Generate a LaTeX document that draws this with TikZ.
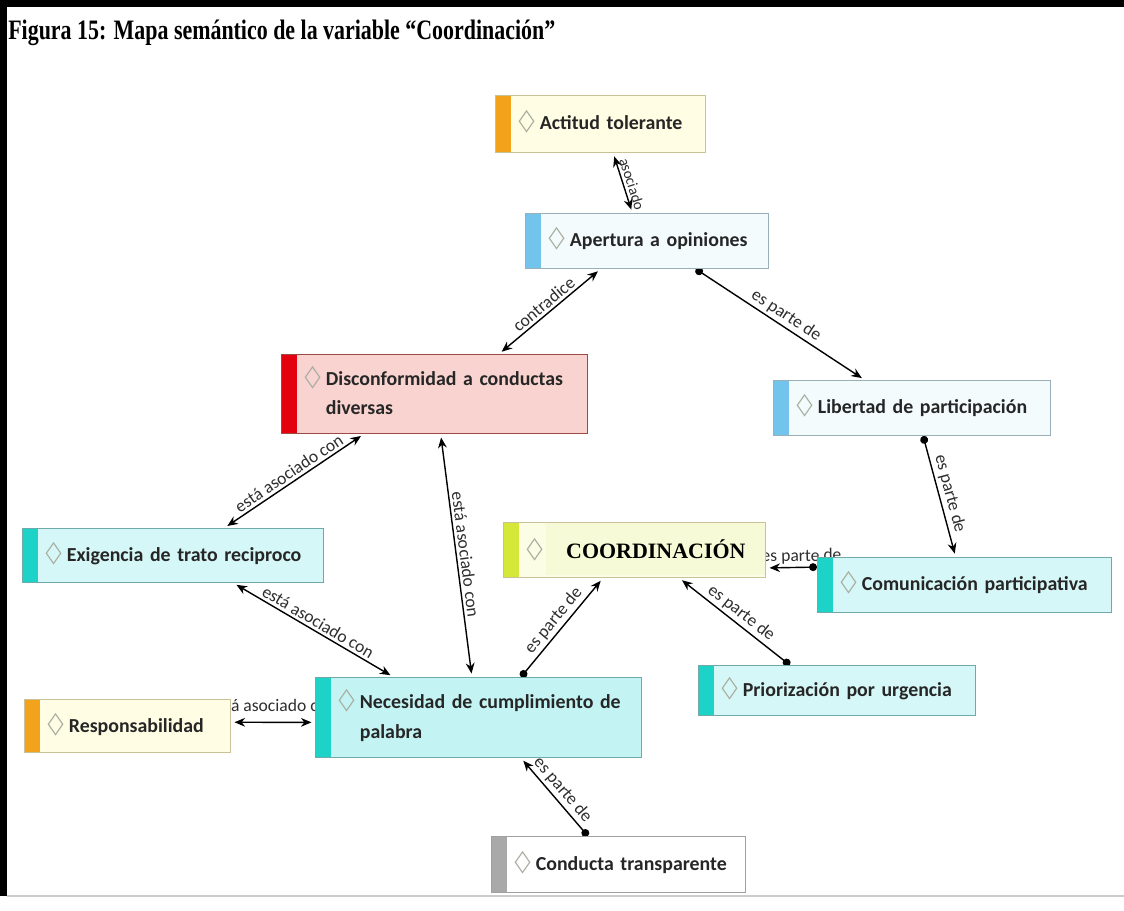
\documentclass[tikz,border=0pt]{standalone}
\usepackage{fontspec}
\usepackage{graphicx}
\setmainfont{Carlito}
\newfontfamily\titlefont{Liberation Serif}
\newfontfamily\symfont{DejaVu Sans}
\usepackage{tikz}
\usetikzlibrary{arrows.meta, calc}
\pgfdeclarelayer{bg}
\pgfsetlayers{bg,main}

\definecolor{barOrange}{HTML}{F2A31B}
\definecolor{barBlue}{HTML}{72C4EC}
\definecolor{barRed}{HTML}{E3000F}
\definecolor{barTeal}{HTML}{1DD3C7}
\definecolor{barLime}{HTML}{D5E83A}
\definecolor{barGray}{HTML}{A9A9A9}
\definecolor{fillYellow}{HTML}{FFFDE3}
\definecolor{fillPale}{HTML}{F4FBFD}
\definecolor{fillPink}{HTML}{F8D3CF}
\definecolor{fillCyan}{HTML}{D6F7F7}
\definecolor{fillNec}{HTML}{C4F3F3}
\definecolor{fillLime}{HTML}{FBFDE4}
\definecolor{fillCoord}{HTML}{F6FAD6}
\definecolor{lineYellow}{HTML}{C9C197}
\definecolor{lineBlue}{HTML}{9AAFB8}
\definecolor{lineRed}{HTML}{9E4A44}
\definecolor{lineTeal}{HTML}{6FA9A8}
\definecolor{lineGray}{HTML}{A0A0A0}
\definecolor{txtDark}{HTML}{262626}
\definecolor{labGray}{HTML}{2E2E2E}
\definecolor{dmdGray}{HTML}{A8ADA0}

% diamond and concept text
\newcommand{\dmd}{{\symfont\fontsize{17}{17}\selectfont\color{dmdGray}\scalebox{0.7}[1]{◇}}}
\newcommand{\cpt}[1]{\hspace*{0.36cm}\dmd\hspace{3pt}\begin{tabular}[t]{@{}l@{}}#1\end{tabular}}

\begin{document}
\begin{tikzpicture}[x=0.02cm, y=-0.02cm,
    bar/.style={path picture={\fill[#1] (path picture bounding box.north west)
        rectangle ([xshift=0.3cm]path picture bounding box.south west);}}]
    \tikzstyle{myBox}=[draw, rectangle, line width=0.6pt, anchor=north west,
        inner xsep=0.1cm, inner ysep=0pt, align=left, text=txtDark,
        font=\fontsize{11.3}{17}\selectfont\bfseries]
    \tikzstyle{myLab}=[font=\fontsize{10}{11}\selectfont, text=labGray,
        inner sep=1.5pt, sloped, above]
    \tikzstyle{twoWay}=[{Stealth[length=6pt,width=5pt]}-{Stealth[length=6pt,width=5pt]},
        line width=0.8pt, shorten <=2pt, shorten >=2pt]
    \tikzstyle{partOf}=[{Circle[length=4.5pt]}-{Stealth[length=6pt,width=5pt]},
        line width=0.8pt, shorten >=2pt]

    \useasboundingbox (0,0) rectangle (1124,911);

    % frame and title
    \fill[black] (0,0) rectangle (1124,7);
    \fill[black] (0,0) rectangle (7,896);
    \draw[black!20, line width=1pt] (7,896) -- (1124,896);
    \node[anchor=base west, inner sep=0pt,
        font=\titlefont\bfseries\fontsize{16}{18}\selectfont] (title) at (8,40)
        {\scalebox{0.78}[1]{Figura 15: Mapa semántico de la variable “Coordinación”}};

    % concepts
    \node[myBox, bar=barOrange, fill=fillYellow, draw=lineYellow, text width=4.0cm,
        minimum height=1.14cm] (act) at (495,95) {\cpt{Actitud tolerante}};
    \node[myBox, bar=barBlue, fill=fillPale, draw=lineBlue, text width=4.66cm,
        minimum height=1.1cm] (ape) at (525,213) {\cpt{Apertura a opiniones}};
    \node[myBox, bar=barRed, fill=fillPink, draw=lineRed, text width=5.92cm,
        minimum height=1.58cm] (dis) at (281,354) {\cpt{Disconformidad a conductas\\diversas}};
    \node[myBox, bar=barBlue, fill=fillPale, draw=lineBlue, text width=5.34cm,
        minimum height=1.1cm] (lib) at (773,380) {\cpt{Libertad de participación}};
    \node[myBox, bar=barTeal, fill=fillCyan, draw=lineTeal, text width=5.82cm,
        minimum height=1.08cm] (exi) at (22,528) {\cpt{Exigencia de trato reciproco}};
    \node[myBox, bar=barLime, fill=fillLime, draw=lineYellow, text width=5.04cm,
        minimum height=1.1cm] (coo) at (503,522) {\cpt{}};
    \node[myBox, bar=barTeal, fill=fillCyan, draw=lineTeal, text width=5.68cm,
        minimum height=1.1cm] (com) at (817,557) {\cpt{Comunicación participativa}};
    \node[myBox, bar=barTeal, fill=fillCyan, draw=lineTeal, text width=5.34cm,
        minimum height=1.0cm] (pri) at (698,665) {\cpt{Priorización por urgencia}};
    \node[myBox, bar=barTeal, fill=fillNec, draw=lineTeal, text width=6.32cm,
        minimum height=1.6cm] (nec) at (315,677) {\cpt{Necesidad de cumplimiento de\\palabra}};
    \node[myBox, bar=barOrange, fill=fillYellow, draw=lineYellow, text width=3.92cm,
        minimum height=1.06cm] (res) at (24,699) {\cpt{Responsabilidad}};
    \node[myBox, bar=barGray, fill=white, draw=lineGray, text width=4.88cm,
        minimum height=1.12cm] (con) at (491,836) {\cpt{Conducta transparente}};

    % label pasted over the core concept
    \node[anchor=north west, fill=fillCoord, inner sep=0pt, minimum width=4.38cm,
        minimum height=1.04cm, font=\titlefont\bfseries\fontsize{12.5}{14}\selectfont]
        (coolbl) at (546,523) {COORDINACIÓN};

    % relations
    \begin{pgfonlayer}{bg}
    \draw[twoWay] ($(act.south west)!.56!(act.south east)$) -- node[myLab, pos=.56,
        font=\fontsize{8.5}{10}\selectfont] {asociado}
        ($(ape.north west)!.44!(ape.north east)$);
    \draw[twoWay] ($(ape.south west)!.31!(ape.south east)$) -- node[myLab] {contradice}
        ($(dis.north west)!.71!(dis.north east)$);
    \draw[partOf] ($(ape.south west)!.70!(ape.south east)$) -- node[myLab] {es parte de}
        ($(lib.north west)!.33!(lib.north east)$);
    \draw[partOf] ($(lib.south west)!.54!(lib.south east)$) -- node[myLab] {es parte de}
        ($(com.north west)!.47!(com.north east)$);
    \draw[partOf] ($(com.north west)!.18!(com.south west)$) -- node[myLab, pos=.3] {es parte de}
        ($(coo.north east)!.82!(coo.south east)$);
    \draw[partOf] ($(pri.north west)!.33!(pri.north east)$) -- node[myLab] {es parte de}
        ($(coo.south west)!.67!(coo.south east)$);
    \draw[partOf] ($(nec.north west)!.63!(nec.north east)$) -- node[myLab] {es parte de}
        ($(coo.south west)!.38!(coo.south east)$);
    \draw[twoWay] ($(dis.south west)!.52!(dis.south east)$) -- node[myLab] {está asociado con}
        ($(nec.north west)!.48!(nec.north east)$);
    \draw[twoWay] ($(dis.south west)!.27!(dis.south east)$) -- node[myLab] {está asociado con}
        ($(exi.north west)!.67!(exi.north east)$);
    \draw[twoWay] ($(exi.south west)!.70!(exi.south east)$) -- node[myLab] {está asociado con}
        ($(nec.north west)!.24!(nec.north east)$);
    \draw[twoWay] ($(res.north east)!.43!(res.south east)$) -- node[myLab, yshift=4pt] {está asociado con}
        ($(nec.north west)!.56!(nec.south west)$);
    \draw[partOf] ($(con.north west)!.38!(con.north east)$) -- node[myLab] {es parte de}
        ($(nec.south west)!.63!(nec.south east)$);
    \end{pgfonlayer}
\end{tikzpicture}
\end{document}
